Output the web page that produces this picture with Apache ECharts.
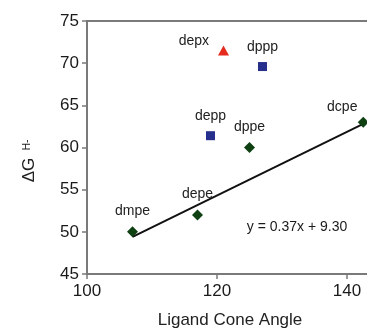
<!DOCTYPE html>
<html>
<head>
<meta charset="utf-8">
<script src="https://cdn.jsdelivr.net/npm/echarts@6/dist/echarts.min.js"></script>
<style>
	html, body { margin: 0; padding: 0; background: #fff; }
	#chart { width: 367px; height: 336px; }
</style>
</head>
<body>
<div id="chart"></div>
<script>
// bidentate phosphine ligands, green diamonds are the fitted set
const fitNames = ['dmpe', 'depe', 'dppe', 'dcpe'];
const fitAngle = [107, 117, 125, 142.5];
const fitDG = [50, 52, 60, 63];

const sqNames = ['depp', 'dppp'];
const sqAngle = [119, 127];
const sqDG = [61.4, 69.6];

const triNames = ['depx'];
const triAngle = [121];
const triDG = [71.5];

// fitted line as drawn (end points)
const trendAngle = [107, 142.5];
const trendDG = [49.4, 62.8];

const xTicks = [100, 120, 140];
const yTicks = [45, 50, 55, 60, 65, 70, 75];
const fitText = 'y = 0.37x + 9.30';

const font = '"Liberation Sans", Arial, sans-serif';
const labelStyle = { show: true, position: 'top', distance: 8, color: '#222', fontSize: 14, fontFamily: font };

// per-point label tweaks
const labelTweak = {
	dcpe: { offset: [-21, 5] },
	depx: { position: 'left', distance: 9, offset: [0, -9] },
};

const toData = (names, xs, ys) =>
	names.map((n, i) => ({
		name: n,
		value: [xs[i], ys[i]],
		label: Object.assign({}, labelStyle, labelTweak[n] || {}, { formatter: n }),
	}));

const chart = echarts.init(document.getElementById('chart'));

chart.setOption({
	animation: false,
	grid: {
		left: 87,
		top: 21,
		right: -6,
		bottom: 62,
		outerBoundsMode: 'none',
		containLabel: false,
		show: true,
		borderColor: '#7a7a7a',
		borderWidth: 2,
	},
	xAxis: {
		type: 'value',
		min: 100,
		max: 144,
		interval: 20,
		name: 'Ligand Cone Angle',
		nameLocation: 'middle',
		nameGap: 38,
		nameTextStyle: { color: '#222', fontSize: 17, fontFamily: font },
		splitLine: { show: false },
		axisLine: { lineStyle: { color: '#7a7a7a', width: 2 } },
		axisTick: { length: 5, lineStyle: { color: '#7a7a7a', width: 1.5 } },
		axisLabel: {
			color: '#1a1a1a',
			fontSize: 17,
			fontFamily: font,
			margin: 9,
			formatter: (v) => (xTicks.includes(v) ? String(v) : ''),
		},
	},
	yAxis: {
		type: 'value',
		min: 45,
		max: 75,
		interval: 5,
		splitLine: { show: false },
		axisLine: { lineStyle: { color: '#7a7a7a', width: 2 } },
		axisTick: { length: 5, lineStyle: { color: '#7a7a7a', width: 1.5 } },
		axisLabel: {
			color: '#1a1a1a',
			fontSize: 17,
			fontFamily: font,
			margin: 8,
			formatter: (v) => (yTicks.includes(v) ? String(v) : ''),
		},
	},
	graphic: [
		{
			type: 'text',
			x: 29,
			y: 170,
			rotation: Math.PI / 2,
			style: { text: 'ΔG', fill: '#222', fontSize: 17, fontFamily: font, align: 'center', verticalAlign: 'middle' },
		},
		{
			type: 'text',
			x: 27,
			y: 145,
			rotation: Math.PI / 2,
			style: { text: 'H-', fill: '#222', fontSize: 10, fontFamily: font, align: 'center', verticalAlign: 'middle' },
		},
		{
			type: 'text',
			x: 297,
			y: 227,
			style: { text: fitText, fill: '#1a1a1a', fontSize: 14, fontFamily: font, align: 'center', verticalAlign: 'middle' },
		},
	],
	series: [
		{
			type: 'line',
			data: trendAngle.map((x, i) => [x, trendDG[i]]),
			symbol: 'none',
			lineStyle: { color: '#111', width: 2 },
			z: 2,
		},
		{
			type: 'scatter',
			data: toData(fitNames, fitAngle, fitDG),
			symbol: 'diamond',
			symbolSize: [11, 11],
			itemStyle: { color: '#0f4012', opacity: 1 },
			z: 3,
		},
		{
			type: 'scatter',
			data: toData(sqNames, sqAngle, sqDG),
			symbol: 'rect',
			symbolSize: 9,
			itemStyle: { color: '#262f8c', opacity: 1 },
			z: 3,
		},
		{
			type: 'scatter',
			data: toData(triNames, triAngle, triDG),
			symbol: 'triangle',
			symbolSize: [11, 10],
			itemStyle: { color: '#e52a1e', opacity: 1 },
			z: 3,
		},
	],
});
</script>
</body>
</html>
